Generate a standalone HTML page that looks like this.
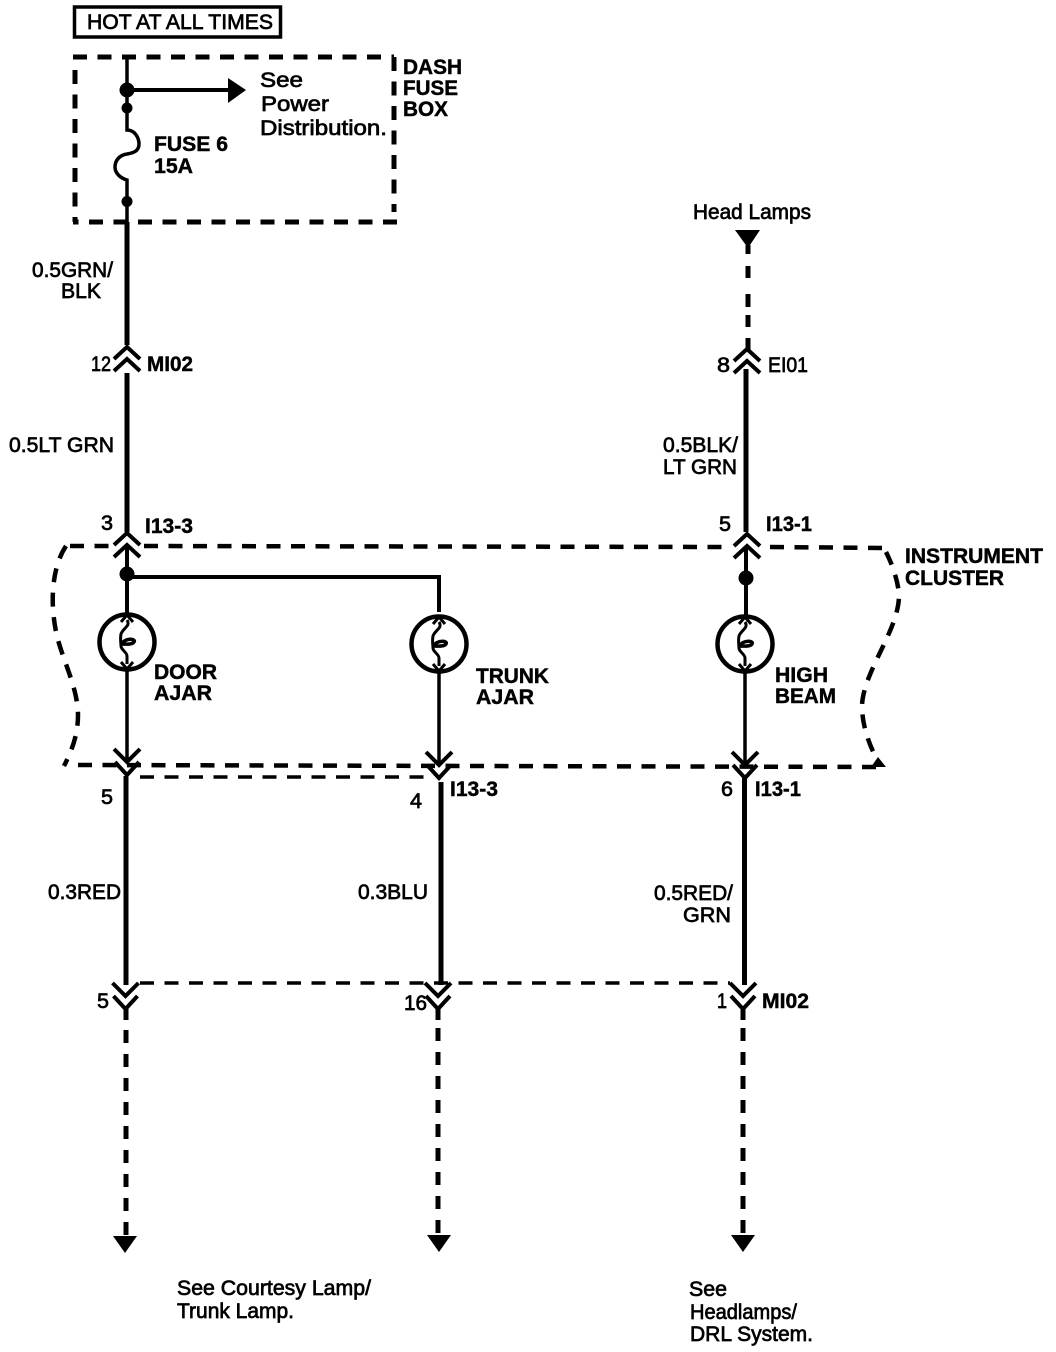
<!DOCTYPE html>
<html>
<head>
<meta charset="utf-8">
<style>
html,body{margin:0;padding:0;background:#fff;width:1056px;height:1352px;overflow:hidden}
svg{display:block}
text{font-family:"Liberation Sans",sans-serif;fill:#000;font-size:21px;stroke:#000;stroke-width:.7px}
.b{font-weight:bold;stroke-width:.45px}
.l{fill:none;stroke:#000;stroke-linecap:butt;stroke-linejoin:miter}
</style>
</head>
<body>
<svg width="1056" height="1352" viewBox="0 0 1056 1352" xmlns="http://www.w3.org/2000/svg">
<defs>
<g id="lamp">
<circle cx="0" cy="0" r="27.5" fill="none" stroke="#000" stroke-width="4.5"/>
<path class="l" stroke-width="3" d="M0,-22 C4,-16 -4,-14 -6,-8 C-7,-3 -6,1 -6,4 C-6,8 0,10 0,14 L0,22"/>
<path class="l" stroke-width="3.5" d="M-6,2 C0,-5 9,-3 7,0 C5,3 -2,2 -6,2"/>
<path class="l" stroke-width="3" d="M-6,-20 L0,-27 L6,-20 M-6,20 L0,27 L6,20"/>
</g>
<g id="up">
<path class="l" stroke-width="4" d="M-13,12 L0,0 L13,12 M-13,24 L0,12 L13,24"/>
</g>
<g id="down">
<path class="l" stroke-width="4" d="M-13,-13 L0,0 L13,-13 M-12,0 L0,13 L12,0"/>
</g>
<path id="tri" d="M-12,0 L12,0 L0,17 Z" fill="#000"/>
</defs>

<!-- header -->
<rect x="74.500" y="7" width="206" height="30" fill="none" stroke="#000" stroke-width="3.500"/>
<text x="87" y="29" textLength="186" lengthAdjust="spacingAndGlyphs">HOT AT ALL TIMES</text>

<!-- dash fuse box -->
<g class="l" stroke-width="5">
<path stroke-dasharray="14 10.500" d="M73,57 L394,57"/>
<path stroke-dasharray="14 10.500" d="M75,70 L75,222"/>
<path stroke-dasharray="14 10.500" d="M394,57 L394,212"/>
<path stroke-dasharray="14 10.500" d="M397,222 L73,222"/>
</g>
<path class="l" stroke-width="3.500" d="M127,57 L127,130 C135,130 139,138 139,144 C139,152 132,153 127,154 C120,155 115,160 115,167 C115,173 120,178 127,180 L127,222"/>
<path class="l" stroke-width="5" d="M127,222 L127,345"/>
<circle cx="127" cy="90" r="7.500"/>
<circle cx="127" cy="108" r="5.500"/>
<circle cx="127" cy="201.500" r="5.500"/>
<path class="l" stroke-width="4" d="M127,90 L230,90"/>
<path d="M228,78 L246,90 L228,103 Z"/>

<text x="260" y="87" textLength="43" lengthAdjust="spacingAndGlyphs">See</text>
<text x="261" y="111" textLength="68" lengthAdjust="spacingAndGlyphs">Power</text>
<text x="260" y="135" textLength="127" lengthAdjust="spacingAndGlyphs">Distribution.</text>
<text class="b" x="403" y="74" textLength="59" lengthAdjust="spacingAndGlyphs">DASH</text>
<text class="b" x="403" y="95" textLength="55" lengthAdjust="spacingAndGlyphs">FUSE</text>
<text class="b" x="403" y="116" textLength="45" lengthAdjust="spacingAndGlyphs">BOX</text>
<text class="b" x="154" y="151" textLength="74" lengthAdjust="spacingAndGlyphs">FUSE 6</text>
<text class="b" x="154" y="173" textLength="39" lengthAdjust="spacingAndGlyphs">15A</text>

<!-- upper wires -->
<text x="32" y="277" textLength="81" lengthAdjust="spacingAndGlyphs">0.5GRN/</text>
<text x="61" y="298" textLength="40" lengthAdjust="spacingAndGlyphs">BLK</text>
<use href="#up" x="127" y="347"/>
<text x="91" y="371" textLength="20" lengthAdjust="spacingAndGlyphs">12</text>
<text class="b" x="147" y="371" textLength="46" lengthAdjust="spacingAndGlyphs">MI02</text>
<path class="l" stroke-width="5" d="M127,373 L127,532"/>
<text x="9" y="452" textLength="105" lengthAdjust="spacingAndGlyphs">0.5LT GRN</text>
<text x="101" y="530" textLength="12" lengthAdjust="spacingAndGlyphs">3</text>
<text class="b" x="145" y="533" textLength="48" lengthAdjust="spacingAndGlyphs">I13-3</text>

<!-- right top -->
<text x="693" y="219" textLength="118" lengthAdjust="spacingAndGlyphs">Head Lamps</text>
<path d="M735,230 L760,230 L748,248 Z"/>
<path class="l" stroke-width="5" d="M748,245 L748,254 M748,266 L748,278 M748,294 L748,307 M748,315 L748,327 M748,338 L748,350"/>
<use href="#up" x="747" y="349"/>
<text x="717" y="372" textLength="13" lengthAdjust="spacingAndGlyphs">8</text>
<text x="768" y="372" textLength="40" lengthAdjust="spacingAndGlyphs">EI01</text>
<path class="l" stroke-width="5" d="M746,369 L746,532"/>
<text x="663" y="452" textLength="75" lengthAdjust="spacingAndGlyphs">0.5BLK/</text>
<text x="663" y="474" textLength="74" lengthAdjust="spacingAndGlyphs">LT GRN</text>
<text x="719" y="531" textLength="12" lengthAdjust="spacingAndGlyphs">5</text>
<text class="b" x="766" y="531" textLength="46" lengthAdjust="spacingAndGlyphs">I13-1</text>

<!-- instrument cluster outline -->
<g class="l" stroke-width="4.500">
<path stroke-dasharray="14 10.500" d="M70,546 L112,546 M144,546 L730,547 M770,547 L884,548"/>
<path stroke-dasharray="14 10.500" d="M66,546 C50,570 50,610 58,640 C65,665 78,690 78,715 C78,735 72,750 64,766"/>
<path stroke-dasharray="14 10.500" d="M886,552 C892,564 898,580 899,595 C899,630 864,670 862,705 C862,730 872,750 880,766"/>
<path stroke-dasharray="14 10.500" d="M78,765 L884,767"/>
<path stroke-width="3.500" stroke-dasharray="14 10.500" d="M140,777 L430,777"/>
</g>
<path d="M871,767 L886,767 L878,757 Z"/>
<text class="b" x="905" y="563" textLength="138" lengthAdjust="spacingAndGlyphs">INSTRUMENT</text>
<text class="b" x="905" y="585" textLength="99" lengthAdjust="spacingAndGlyphs">CLUSTER</text>

<!-- entry connectors on cluster -->
<use href="#up" x="127" y="533"/>
<use href="#up" x="747" y="534"/>
<path class="l" stroke-width="4" d="M127,546 L127,615"/>
<path class="l" stroke-width="4" d="M746,546 L746,615"/>
<circle cx="127" cy="574" r="7.500"/>
<circle cx="746" cy="578" r="7.500"/>
<path class="l" stroke-width="4" d="M127,577 L439,577 L439,612"/>

<!-- lamps -->
<use href="#lamp" x="127" y="642"/>
<use href="#lamp" x="439" y="644"/>
<use href="#lamp" x="745" y="644"/>
<text class="b" x="154" y="679" textLength="63" lengthAdjust="spacingAndGlyphs">DOOR</text>
<text class="b" x="154" y="700" textLength="58" lengthAdjust="spacingAndGlyphs">AJAR</text>
<text class="b" x="476" y="683" textLength="73" lengthAdjust="spacingAndGlyphs">TRUNK</text>
<text class="b" x="476" y="704" textLength="58" lengthAdjust="spacingAndGlyphs">AJAR</text>
<text class="b" x="775" y="682" textLength="53" lengthAdjust="spacingAndGlyphs">HIGH</text>
<text class="b" x="775" y="703" textLength="61" lengthAdjust="spacingAndGlyphs">BEAM</text>

<!-- lower wires in cluster -->
<path class="l" stroke-width="3.500" d="M127,670 L127,762"/>
<path class="l" stroke-width="3.500" d="M439,672 L439,765"/>
<path class="l" stroke-width="3.500" d="M745,672 L745,765"/>
<use href="#down" x="127" y="762"/>
<use href="#down" x="439" y="765"/>
<use href="#down" x="745" y="765"/>

<!-- lower wires -->
<path class="l" stroke-width="5" d="M126,776 L126,985"/>
<path class="l" stroke-width="5" d="M441,782 L441,985"/>
<path class="l" stroke-width="5" d="M744.500,776 L744.500,985"/>
<text x="101" y="804" textLength="12" lengthAdjust="spacingAndGlyphs">5</text>
<text x="410" y="808" textLength="12" lengthAdjust="spacingAndGlyphs">4</text>
<text x="721" y="796" textLength="12" lengthAdjust="spacingAndGlyphs">6</text>
<text class="b" x="450" y="796" textLength="48" lengthAdjust="spacingAndGlyphs">I13-3</text>
<text class="b" x="755" y="796" textLength="46" lengthAdjust="spacingAndGlyphs">I13-1</text>
<text x="48" y="899" textLength="73" lengthAdjust="spacingAndGlyphs">0.3RED</text>
<text x="358" y="899" textLength="70" lengthAdjust="spacingAndGlyphs">0.3BLU</text>
<text x="654" y="900" textLength="79" lengthAdjust="spacingAndGlyphs">0.5RED/</text>
<text x="683" y="922" textLength="48" lengthAdjust="spacingAndGlyphs">GRN</text>

<!-- bottom connector row -->
<path class="l" stroke-width="3.500" stroke-dasharray="14 10.500" d="M140,983 L730,983"/>
<use href="#down" x="125.500" y="996"/>
<use href="#down" x="438" y="996"/>
<use href="#down" x="743" y="996"/>
<path class="l" stroke-width="5" d="M126,1008 L126,1020"/>
<path class="l" stroke-width="5" d="M438,1008 L438,1020"/>
<path class="l" stroke-width="5" d="M743,1008 L743,1020"/>
<text x="97" y="1008" textLength="12" lengthAdjust="spacingAndGlyphs">5</text>
<text x="404" y="1010" textLength="23" lengthAdjust="spacingAndGlyphs">16</text>
<text x="717" y="1008" textLength="10" lengthAdjust="spacingAndGlyphs">1</text>
<text class="b" x="762" y="1008" textLength="47" lengthAdjust="spacingAndGlyphs">MI02</text>

<g class="l" stroke-width="5">
<path stroke-dasharray="13 11" d="M126,1030 L126,1238"/>
<path stroke-dasharray="13 11" d="M438,1028 L438,1236"/>
<path stroke-dasharray="13 11" d="M743,1028 L743,1236"/>
</g>
<use href="#tri" x="125" y="1236"/>
<use href="#tri" x="439" y="1235"/>
<use href="#tri" x="743" y="1235"/>

<text x="177" y="1295" textLength="194" lengthAdjust="spacingAndGlyphs">See Courtesy Lamp/</text>
<text x="177" y="1318" textLength="117" lengthAdjust="spacingAndGlyphs">Trunk Lamp.</text>
<text x="689" y="1296" textLength="38" lengthAdjust="spacingAndGlyphs">See</text>
<text x="690" y="1319" textLength="107" lengthAdjust="spacingAndGlyphs">Headlamps/</text>
<text x="690" y="1341" textLength="123" lengthAdjust="spacingAndGlyphs">DRL System.</text>
</svg>
</body>
</html>
